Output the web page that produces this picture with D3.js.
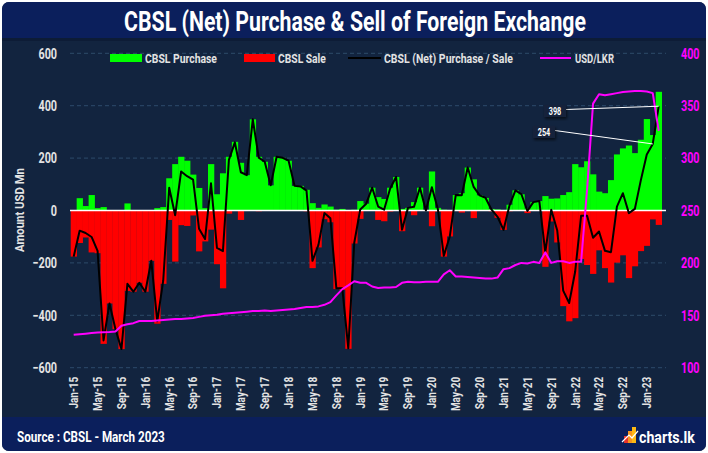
<!DOCTYPE html>
<html><head><meta charset="utf-8">
<script src="https://cdn.jsdelivr.net/npm/d3@7"></script>
<style>
html,body{margin:0;padding:0;background:#fff;}
svg{display:block;}
text{font-family:Roboto,"Liberation Sans",sans-serif;font-weight:bold;}
</style></head><body>
<svg id="chart" width="708" height="453"></svg>
<script>
const months = [
"Jan-15","Feb-15","Mar-15","Apr-15","May-15","Jun-15","Jul-15","Aug-15","Sep-15","Oct-15","Nov-15","Dec-15",
"Jan-16","Feb-16","Mar-16","Apr-16","May-16","Jun-16","Jul-16","Aug-16","Sep-16","Oct-16","Nov-16","Dec-16",
"Jan-17","Feb-17","Mar-17","Apr-17","May-17","Jun-17","Jul-17","Aug-17","Sep-17","Oct-17","Nov-17","Dec-17",
"Jan-18","Feb-18","Mar-18","Apr-18","May-18","Jun-18","Jul-18","Aug-18","Sep-18","Oct-18","Nov-18","Dec-18",
"Jan-19","Feb-19","Mar-19","Apr-19","May-19","Jun-19","Jul-19","Aug-19","Sep-19","Oct-19","Nov-19","Dec-19",
"Jan-20","Feb-20","Mar-20","Apr-20","May-20","Jun-20","Jul-20","Aug-20","Sep-20","Oct-20","Nov-20","Dec-20",
"Jan-21","Feb-21","Mar-21","Apr-21","May-21","Jun-21","Jul-21","Aug-21","Sep-21","Oct-21","Nov-21","Dec-21",
"Jan-22","Feb-22","Mar-22","Apr-22","May-22","Jun-22","Jul-22","Aug-22","Sep-22","Oct-22","Nov-22","Dec-22",
"Jan-23","Feb-23","Mar-23"];

// CBSL purchases (USD Mn)
const purchase = [
0,47,17,59,9,13,0,0,0,27,0,0,
0,0,9,13,123,177,205,190,137,86,9,177,
62,142,205,262,182,135,348,205,186,96,205,201,
190,94,94,79,28,10,23,15,3,6,2,3,
36,26,87,51,44,87,128,6,10,32,87,2,
149,10,3,0,59,66,164,119,58,48,6,4,
0,22,77,62,8,32,36,55,45,46,59,70,
177,165,188,138,72,66,116,214,237,248,219,270,
349,288,453];

// CBSL sales (USD Mn, negative)
const sale = [
-176,-124,-103,-160,-163,-509,-355,-453,-529,-307,-310,-276,
-310,-192,-432,-280,-36,-195,-56,-59,-19,-156,-118,-73,
-205,-297,-12,-2,-36,0,0,-3,0,0,0,0,
0,0,-2,-3,-220,-141,-33,-45,-300,-303,-528,-126,
-32,0,0,-36,-41,-4,0,-79,0,-18,0,-2,
-60,-4,-176,-99,0,-8,0,-29,0,0,-3,-28,
-74,-3,0,0,-10,0,0,-215,-42,-122,-365,-423,
-411,-185,-208,-242,-152,-220,-275,-199,-171,-258,-213,-155,
-135,-34,-55];

// USD/LKR exchange rate
const usdLkr = [
131.5,132,132.5,133,133.5,133.8,134,134.5,140,141.5,142.5,144.5,
144.5,144.5,145,145.5,146,146.5,146.5,147,147.5,148.5,149.5,150,
150.5,151.5,152,152.5,153,153.5,154,154,154.5,154,154.5,155,
155.5,156,157,158,158,158.5,160,162.5,169,175,178.5,182.5,
181,181,177.5,176,176.5,176.5,177,181,182,181.5,181.5,182,
182,182,189,193,187,187,186.5,186,185.5,185,185,186,
194,195,198,200,199.5,201,200,210,200,201.5,201.5,200,
201,201,270,352,361,360,361,362,363,363.5,364,364,
363.5,362,326];

const leftTicks = [-600,-400,-200,0,200,400,600];
const rightTicks = [100,150,200,250,300,350,400];
const xTickLabels = months.filter((d,i)=>i%4===0);

const net = purchase.map((p,i)=>p+sale[i]);

const svg = d3.select("#chart");
const defs = svg.append("defs");
const sh = defs.append("filter").attr("id","sh").attr("x","-30%").attr("y","-30%").attr("width","160%").attr("height","160%");
sh.append("feDropShadow").attr("dx",1).attr("dy",2).attr("stdDeviation",1.5).attr("flood-color","#000").attr("flood-opacity",0.6);

// squeeze a text horizontally to a target width (emulates a condensed face)
function fit(sel, targetW){
  sel.each(function(){
    const t = d3.select(this);
    const w = this.getComputedTextLength();
    const k = targetW / w;
    const x0 = +t.attr("x") || 0, y0 = +t.attr("y") || 0;
    t.attr("x",0).attr("y",0).attr("transform",`translate(${x0},${y0}) scale(${k},1)`);
  });
}
function squeeze(sel, k, rot){
  sel.each(function(){
    const t = d3.select(this);
    const x0 = +t.attr("x") || 0;
    t.attr("x", x0 / k).attr("transform", (rot ? "rotate(-90) " : "") + `scale(${k},1)`);
  });
}

// card
svg.append("rect").attr("x",2).attr("y",2).attr("width",704).attr("height",449).attr("rx",7).attr("fill","#12243f");
// title bar
svg.append("rect").attr("x",2).attr("y",2).attr("width",704).attr("height",36).attr("rx",7).attr("fill","#0b1f5c");
svg.append("rect").attr("x",2).attr("y",22).attr("width",704).attr("height",16).attr("fill","#0b1f5c");
svg.append("rect").attr("x",2).attr("y",38).attr("width",704).attr("height",3).attr("fill","#0c1a33").attr("opacity",0.7);
fit(svg.append("text").attr("x",355).attr("y",31).attr("text-anchor","middle")
  .attr("font-size",28).attr("fill","#fff")
  .text("CBSL (Net) Purchase & Sell of Foreign Exchange"), 462);
// footer
svg.append("rect").attr("x",2).attr("y",417).attr("width",704).attr("height",34).attr("rx",7).attr("fill","#0b1f5c");
svg.append("rect").attr("x",2).attr("y",417).attr("width",704).attr("height",14).attr("fill","#0b1f5c");
fit(svg.append("text").attr("x",17).attr("y",442).attr("font-size",14).attr("fill","#fff")
  .text("Source : CBSL - March 2023"), 148);
// logo
const lg = svg.append("g");
lg.append("rect").attr("x",624).attr("y",436).attr("width",4).attr("height",7).attr("fill","#e8332a");
lg.append("rect").attr("x",628).attr("y",431).attr("width",4).attr("height",12).attr("fill","#f7941d");
lg.append("rect").attr("x",632).attr("y",427).attr("width",4).attr("height",16).attr("fill","#fdb913");
lg.append("path").attr("d","M622,442 L629,435 L632,438 L638,431").attr("stroke","#fff").attr("stroke-width",1.2).attr("fill","none");
fit(svg.append("text").attr("x",639).attr("y",443).attr("font-size",17).attr("fill","#fff")
  .attr("font-weight","500").text("charts.lk"), 56);

// scales
const x = d3.scaleBand().domain(months).range([70.7, 661.7]).padding(0);
const yL = d3.scaleLinear().domain([-600,600]).range([367.7,53.3]);
const yR = d3.scaleLinear().domain([100,400]).range([367.7,53.3]);
const bw = x.bandwidth();

// grid
svg.append("g").selectAll("line").data(leftTicks.filter(v=>v!==0)).join("line")
  .attr("x1",70).attr("x2",666).attr("y1",d=>yL(d)).attr("y2",d=>yL(d))
  .attr("stroke","#2d4b6a").attr("stroke-dasharray","4,3").attr("stroke-width",1);

// bars
svg.append("g").selectAll("rect").data(months).join("rect")
  .attr("x",d=>x(d)).attr("width",bw+0.3)
  .attr("y",(d,i)=>yL(purchase[i])).attr("height",(d,i)=>yL(0)-yL(purchase[i]))
  .attr("fill","#00ff00");
svg.append("g").selectAll("rect").data(months).join("rect")
  .attr("x",d=>x(d)).attr("width",bw+0.3)
  .attr("y",yL(0)).attr("height",(d,i)=>yL(sale[i])-yL(0))
  .attr("fill","#ff0000");

// zero line
svg.append("line").attr("x1",70).attr("x2",666).attr("y1",yL(0)).attr("y2",yL(0))
  .attr("stroke","#fff").attr("stroke-width",1.3);

// net line
svg.append("path").datum(net)
  .attr("d",d3.line().x((d,i)=>x(months[i])+bw/2).y(d=>yL(d)))
  .attr("fill","none").attr("stroke","#000").attr("stroke-width",2).attr("stroke-linejoin","round");
// USD/LKR line
svg.append("path").datum(usdLkr)
  .attr("d",d3.line().x((d,i)=>x(months[i])+bw/2).y(d=>yR(d)))
  .attr("fill","none").attr("stroke","#ff00ff").attr("stroke-width",2).attr("stroke-linejoin","round");

// axes
const gl = svg.append("g").attr("transform","translate(70,0)")
  .call(d3.axisLeft(yL).tickValues(leftTicks).tickSize(0).tickPadding(13));
gl.select(".domain").remove();
gl.attr("font-family",null);
gl.selectAll("text").attr("font-size",15).attr("fill","#e3e3e3");
squeeze(gl.selectAll("text"), 0.72, false);
const gr = svg.append("g").attr("transform","translate(666,0)")
  .call(d3.axisRight(yR).tickValues(rightTicks).tickSize(0).tickPadding(15));
gr.select(".domain").remove();
gr.attr("font-family",null);
gr.selectAll("text").attr("font-size",15).attr("fill","#ff00ff");
squeeze(gr.selectAll("text"), 0.72, false);
const gb = svg.append("g").attr("transform","translate(0,367.7)")
  .call(d3.axisBottom(x).tickValues(xTickLabels).tickSize(0));
gb.select(".domain").remove();
gb.attr("font-family",null);
gb.selectAll("text").attr("font-size",12.5).attr("fill","#e3e3e3")
  .attr("text-anchor","end").attr("x",-9).attr("y",0).attr("dy","0.35em");
squeeze(gb.selectAll("text"), 0.8, true);

// y title
fit(svg.append("text").attr("x",24).attr("y",0).attr("text-anchor","middle")
  .attr("font-size",12.5).attr("fill","#e3e3e3").text("Amount USD Mn"), 84);
svg.select("text:last-of-type");
{
  const t = svg.selectAll("text").filter(function(){return d3.select(this).text()==="Amount USD Mn";});
  const tr = t.attr("transform").replace(/translate\([^)]*\)/,"");
  t.attr("transform",`translate(24,210) rotate(-90)${tr}`);
}

// legend
const leg = svg.append("g");
leg.append("rect").attr("x",110).attr("y",54).attr("width",32).attr("height",8).attr("fill","#00ff00");
fit(leg.append("text").attr("x",145).attr("y",62.5).attr("font-size",12.5).attr("fill","#e3e3e3").text("CBSL Purchase"), 72);
leg.append("rect").attr("x",244).attr("y",54).attr("width",31).attr("height",8).attr("fill","#ff0000");
fit(leg.append("text").attr("x",278).attr("y",62.5).attr("font-size",12.5).attr("fill","#e3e3e3").text("CBSL Sale"), 48);
leg.append("line").attr("x1",348).attr("x2",381).attr("y1",58).attr("y2",58).attr("stroke","#000").attr("stroke-width",2);
fit(leg.append("text").attr("x",384).attr("y",62.5).attr("font-size",12.5).attr("fill","#e3e3e3").text("CBSL (Net) Purchase / Sale"), 129);
leg.append("line").attr("x1",540).attr("x2",571).attr("y1",58).attr("y2",58).attr("stroke","#ff00ff").attr("stroke-width",2);
fit(leg.append("text").attr("x",575).attr("y",62.5).attr("font-size",12.5).attr("fill","#e3e3e3").text("USD/LKR"), 39);

// annotations
const boxes = [{m:"Feb-23", bx:533, by:126}, {m:"Mar-23", bx:544, by:105}];
boxes.forEach(b=>{
  const i = months.indexOf(b.m);
  const px = x(b.m)+bw/2, py = yL(net[i]);
  svg.append("line").attr("x1",b.bx+22).attr("y1",b.by+4.5).attr("x2",px).attr("y2",py)
    .attr("stroke","#fff").attr("stroke-width",1);
  svg.append("rect").attr("x",b.bx).attr("y",b.by).attr("width",22).attr("height",12)
    .attr("fill","#13233b").attr("filter","url(#sh)");
  fit(svg.append("text").attr("x",b.bx+11).attr("y",b.by+9.5).attr("text-anchor","middle")
    .attr("font-size",10).attr("fill","#fff").text(net[i]), 12.5);
});
</script></body></html>
